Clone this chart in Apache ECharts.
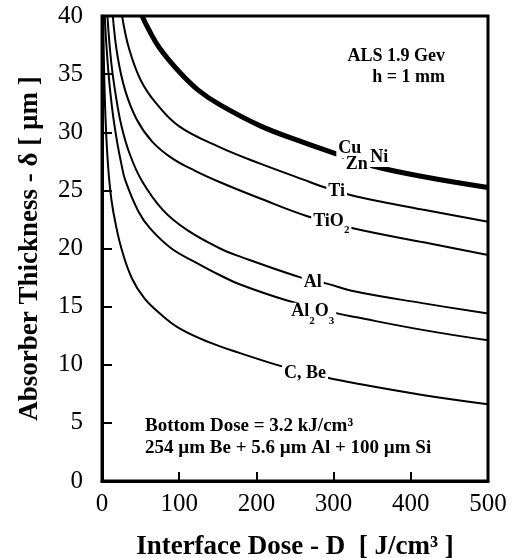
<!DOCTYPE html>
<html><head><meta charset="utf-8">
<script src="https://cdn.jsdelivr.net/npm/echarts@6/dist/echarts.min.js"></script>
<style>html,body{margin:0;padding:0;background:#fff}#c{width:518px;height:558px}</style>
</head><body><div id="c"></div>
<script>
// ---- data ----
const xTicks = [0, 100, 200, 300, 400, 500];
const yTicks = [0, 5, 10, 15, 20, 25, 30, 35, 40];

// Interface dose D [J/cm3] , absorber thickness [um]
const cuNiZn = [[52,40],[60,38.9],[75,37.2],[100,35.2],[125,33.6],[153,32.35],[205,30.55],[260,29.15],[308,28.05],[351,27.1],[415,26.2],[500,25.25]];
const ti     = [[26,40],[35,37.2],[50,34.5],[70,32.5],[100,30.5],[153,28.7],[205,27.3],[260,25.95],[291,25.2],[328,24.5],[415,23.35],[500,22.3]];
const tiO2   = [[14,40],[20,36.6],[30,33.6],[45,31.1],[65,29.2],[90,27.8],[120,26.7],[153,25.7],[205,24.3],[265,22.8],[328,21.7],[415,20.55],[500,19.45]];
const al     = [[7,40],[12,36],[18,33.1],[25,30.6],[35,28.3],[51,25.9],[79,23.3],[110,21.6],[153,20.0],[179,19.3],[260,17.45],[290,17.0],[328,16.3],[415,15.3],[500,14.4]];
const al2O3  = [[3.5,40],[5,38.2],[8,35.4],[11,33.3],[15,31.1],[20,29.0],[25,27.3],[30,25.9],[47,23.2],[62,21.75],[90,20.0],[123,18.75],[153,17.7],[179,16.9],[241,15.5],[306,14.4],[328,14.1],[415,13.0],[500,12.1]];
const cBe    = [[1.5,40],[3,34.5],[5,30.5],[8,27],[12,24.3],[18,22.0],[26,19.8],[39,17.4],[55,15.7],[75,14.4],[101,13.1],[140,11.9],[179,11.0],[231,9.9],[291,8.9],[328,8.4],[415,7.4],[500,6.6]];

// curve label texts and their anchor (in data units)
const curveLabels = [
  {series: 0, text: '{n|Cu}', at: [321, 28.65]},
  {series: 0, text: '{n|Ni}', at: [359, 27.87]},
  {series: 0, text: '{n|Zn}', at: [330, 27.2]},
  {series: 1, text: '{n|Ti}', at: [304, 24.95]},
  {series: 2, text: '{m|TiO}{s|2}', at: [297, 22.1]},
  {series: 3, text: '{n|Al}', at: [273, 17.1]},
  {series: 4, text: '{m|Al}{s|2}{m|O}{s|3}', at: [273, 14.3]},
  {series: 5, text: '{n|C, Be}', at: [263, 9.3]}
];

const FONT = "'Liberation Serif', 'Times New Roman', serif";
const curves = [cuNiZn, ti, tiO2, al, al2O3, cBe];
const widths = [5, 2, 2, 2, 2, 2];

const rich = {
  n: {fontFamily: FONT, fontWeight: 'bold', fontSize: 18, color: '#000', lineHeight: 20},
  m: {fontFamily: FONT, fontWeight: 'bold', fontSize: 18, color: '#000', lineHeight: 24, verticalAlign: 'top'},
  s: {fontFamily: FONT, fontWeight: 'bold', fontSize: 11, color: '#000', lineHeight: 11, verticalAlign: 'bottom'}
};

const series = curves.map((d, i) => ({
  type: 'line',
  data: d,
  smooth: 0.4,
  showSymbol: false,
  symbol: 'none',
  lineStyle: {color: '#000', width: widths[i]},
  clip: true,
  silent: true,
  markPoint: {
    symbol: 'rect', symbolSize: 1,
    itemStyle: {color: 'rgba(0,0,0,0)'},
    label: {show: true, position: 'inside', backgroundColor: '#fff', padding: [0, 2], rich: rich,
            formatter: p => p.data.txt},
    data: curveLabels.filter(l => l.series === i).map(l => ({coord: l.at, txt: l.text}))
  }
}));

const chart = echarts.init(document.getElementById('c'), null, {renderer: 'canvas'});
chart.setOption({
  animation: false,
  backgroundColor: '#fff',
  grid: {left: 102, right: 30, top: 16, bottom: 77, show: true, borderColor: '#000', borderWidth: 3,
         backgroundColor: 'transparent', containLabel: false, outerBoundsMode: 'none'},
  xAxis: {
    type: 'value', min: xTicks[0], max: xTicks[xTicks.length - 1], interval: xTicks[1] - xTicks[0],
    axisLine: {show: true, lineStyle: {color: '#000', width: 3}},
    axisTick: {show: true, inside: true, length: 9, lineStyle: {color: '#000', width: 2}},
    splitLine: {show: false},
    axisLabel: {color: '#000', fontFamily: FONT, fontSize: 25, margin: 11},
    name: 'Interface Dose - D  [ J/cm³ ]', nameLocation: 'middle', nameGap: 53,
    nameTextStyle: {color: '#000', fontFamily: FONT, fontWeight: 'bold', fontSize: 27}
  },
  yAxis: {
    type: 'value', min: yTicks[0], max: yTicks[yTicks.length - 1], interval: yTicks[1] - yTicks[0],
    axisLine: {show: true, lineStyle: {color: '#000', width: 3}},
    axisTick: {show: true, inside: true, length: 10, lineStyle: {color: '#000', width: 2}},
    splitLine: {show: false},
    axisLabel: {color: '#000', fontFamily: FONT, fontSize: 25, margin: 19},
    name: 'Absorber Thickness - δ [ µm ]', nameLocation: 'middle', nameGap: 58,
    nameTextStyle: {color: '#000', fontFamily: FONT, fontWeight: 'bold', fontSize: 27}
  },
  series: series,
  graphic: [
    {type: 'text', right: 73, top: 47, style: {text: 'ALS 1.9 Gev', fill: '#000', font: "bold 18px " + FONT, textAlign: 'right'}},
    {type: 'text', right: 73, top: 68, style: {text: 'h = 1 mm', fill: '#000', font: "bold 18px " + FONT, textAlign: 'right'}},
    {type: 'text', left: 145, top: 417, style: {text: 'Bottom Dose = 3.2 kJ/cm³', fill: '#000', font: "bold 19px " + FONT}},
    {type: 'text', left: 145, top: 439, style: {text: '254 µm Be + 5.6 µm Al + 100 µm Si', fill: '#000', font: "bold 19px " + FONT}}
  ]
});
</script></body></html>
